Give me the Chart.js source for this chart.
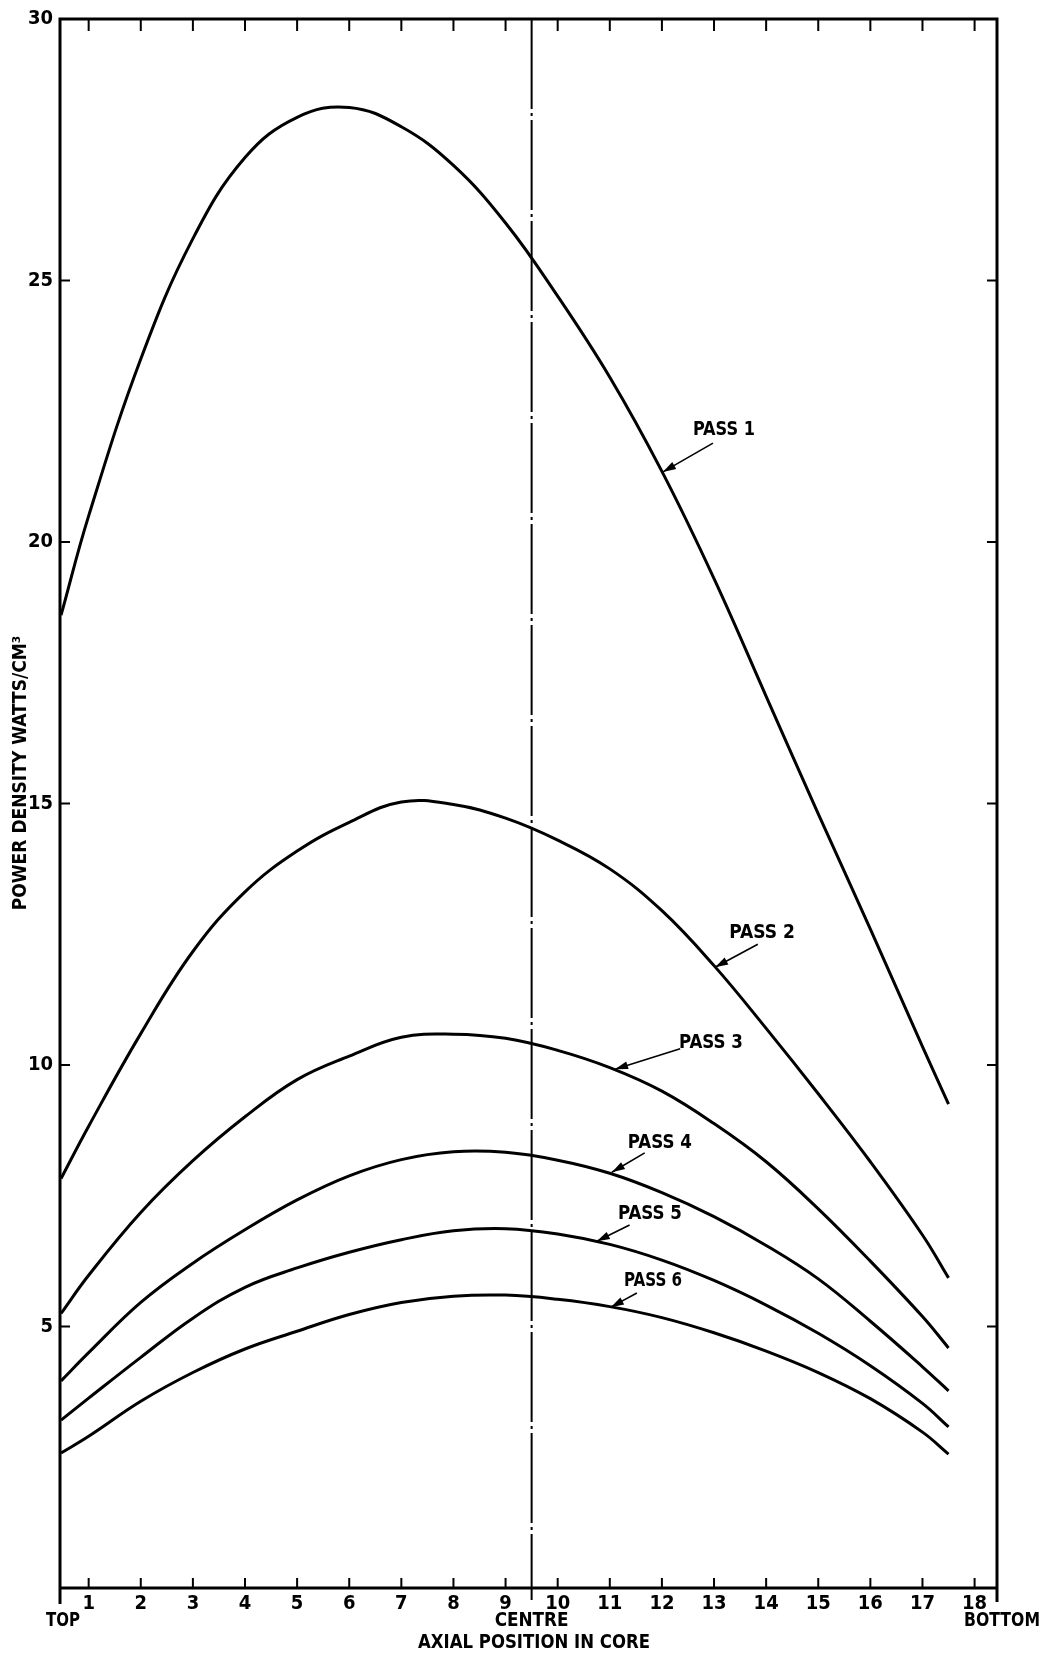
<!DOCTYPE html>
<html>
<head>
<meta charset="utf-8">
<title>Power density - axial position in core</title>
<script src="https://cdn.jsdelivr.net/npm/chart.js@4.4.1/dist/chart.umd.min.js"></script>
<style>
  html, body { margin: 0; padding: 0; background: #fff; }
  #wrap { width: 1046px; height: 1659px; position: relative; }
</style>
</head>
<body>
<div id="wrap"><canvas id="grafica"></canvas></div>
<script>
// axial positions where the curves were read (TOP edge .. last channel)
let positions = [0.47, 1, 2, 3, 4, 5, 6, 7, 8, 9, 10, 11, 12, 13, 14, 15, 16, 17, 17.5];
let pass1 = [18.6, 20.5, 23.5, 25.8, 27.35, 28.12, 28.31, 27.94, 27.2, 26.1, 24.7, 23.15, 21.35, 19.3, 17.05, 14.8, 12.6, 10.35, 9.25];
let pass2 = [7.83, 8.83, 10.6, 12.17, 13.31, 14.09, 14.64, 15.03, 14.98, 14.72, 14.3, 13.75, 12.95, 11.9, 10.7, 9.45, 8.15, 6.75, 5.93];
let pass3 = [5.25, 5.98, 7.18, 8.17, 9.01, 9.72, 10.17, 10.53, 10.59, 10.51, 10.28, 9.95, 9.5, 8.88, 8.15, 7.25, 6.25, 5.19, 4.59];
let pass4 = [3.96, 4.5, 5.46, 6.21, 6.85, 7.42, 7.88, 8.19, 8.34, 8.33, 8.18, 7.93, 7.56, 7.1, 6.55, 5.91, 5.1, 4.23, 3.77];
let pass5 = [3.21, 3.63, 4.41, 5.16, 5.75, 6.12, 6.42, 6.66, 6.83, 6.87, 6.77, 6.57, 6.27, 5.88, 5.41, 4.87, 4.25, 3.53, 3.08];
let pass6 = [2.58, 2.9, 3.57, 4.12, 4.57, 4.91, 5.23, 5.46, 5.58, 5.6, 5.52, 5.38, 5.17, 4.88, 4.53, 4.12, 3.62, 2.98, 2.56];
let seriesNames = ['PASS 1', 'PASS 2', 'PASS 3', 'PASS 4', 'PASS 5', 'PASS 6'];
let xTicks = [1, 2, 3, 4, 5, 6, 7, 8, 9, 10, 11, 12, 13, 14, 15, 16, 17, 18];
let yTicks = [0, 5, 10, 15, 20, 25, 30];
let centrePos = 9.5;

const FONT = '"DejaVu Sans Condensed", "Liberation Sans Narrow", "DejaVu Sans", sans-serif';

// where each "PASS n" label sits and where its arrow points (data units)
const callouts = [
  { text: seriesNames[0], tx: 13.19, ty: 22.14, w: 62, from: [12.98, 21.89], to: [12.02, 21.34] },
  { text: seriesNames[1], tx: 13.92, ty: 12.52, w: 66, from: [13.84, 12.31], to: [13.02, 11.87] },
  { text: seriesNames[2], tx: 12.94, ty: 10.42, w: 64, from: [12.35, 10.31], to: [11.1, 9.92] },
  { text: seriesNames[3], tx: 11.96, ty: 8.51, w: 64, from: [11.67, 8.32], to: [11.04, 7.95] },
  { text: seriesNames[4], tx: 11.77, ty: 7.15, w: 64, from: [11.38, 6.94], to: [10.75, 6.63] },
  { text: seriesNames[5], tx: 11.83, ty: 5.87, w: 58, from: [11.52, 5.64], to: [11.02, 5.37] }
];

function toPoints(vals) {
  return vals.map((v, i) => ({ x: positions[i], y: v }));
}

const dibujo = {
  id: 'dibujo',
  afterDatasetsDraw(chart) {
    const ctx = chart.ctx;
    const a = chart.chartArea;
    const xs = chart.scales.x;
    const ys = chart.scales.y;
    ctx.save();
    ctx.strokeStyle = '#000';
    ctx.fillStyle = '#000';

    // centre line (chain line)
    const cx = xs.getPixelForValue(centrePos);
    ctx.lineWidth = 2;
    ctx.setLineDash([90, 4, 3, 4]);
    ctx.beginPath();
    ctx.moveTo(cx, a.top);
    ctx.lineTo(cx, a.bottom + 12);
    ctx.stroke();
    ctx.setLineDash([]);

    // frame
    ctx.lineWidth = 3;
    ctx.beginPath();
    ctx.moveTo(a.left, a.bottom + 16);
    ctx.lineTo(a.left, a.top);
    ctx.lineTo(a.right, a.top);
    ctx.lineTo(a.right, a.bottom + 14);
    ctx.moveTo(a.left, a.bottom);
    ctx.lineTo(a.right, a.bottom);
    ctx.stroke();

    // inward tick marks
    ctx.lineWidth = 2;
    ctx.beginPath();
    xTicks.forEach(v => {
      const px = xs.getPixelForValue(v);
      ctx.moveTo(px, a.bottom); ctx.lineTo(px, a.bottom - 10);
      ctx.moveTo(px, a.top); ctx.lineTo(px, a.top + 12);
    });
    yTicks.forEach(v => {
      if (v === 0 || v === 30) return;
      const py = ys.getPixelForValue(v);
      ctx.moveTo(a.left, py); ctx.lineTo(a.left + 10, py);
      ctx.moveTo(a.right, py); ctx.lineTo(a.right - 10, py);
    });
    ctx.stroke();

    // text under the axis
    ctx.font = 'bold 19px ' + FONT;
    ctx.textAlign = 'center';
    ctx.textBaseline = 'middle';
    ctx.fillText('TOP', a.left + 3, 1621, 34);
    ctx.fillText('CENTRE', cx, 1621, 74);
    ctx.fillText('BOTTOM', a.right + 5, 1621, 76);
    ctx.fillText('AXIAL POSITION IN CORE', 534, 1643, 232);

    // y title
    ctx.save();
    ctx.translate(21, 773);
    ctx.rotate(-Math.PI / 2);
    ctx.fillText('POWER DENSITY WATTS/CM\u00B3', 0, 0, 298);
    ctx.restore();

    // PASS labels with arrows
    callouts.forEach(c => {
      ctx.font = 'bold 19px ' + FONT;
      ctx.fillText(c.text, xs.getPixelForValue(c.tx), ys.getPixelForValue(c.ty), c.w);
      const x1 = xs.getPixelForValue(c.from[0]), y1 = ys.getPixelForValue(c.from[1]);
      const x2 = xs.getPixelForValue(c.to[0]), y2 = ys.getPixelForValue(c.to[1]);
      ctx.lineWidth = 1.6;
      ctx.beginPath();
      ctx.moveTo(x1, y1);
      ctx.lineTo(x2, y2);
      ctx.stroke();
      const ang = Math.atan2(y2 - y1, x2 - x1);
      ctx.beginPath();
      ctx.moveTo(x2, y2);
      ctx.lineTo(x2 - 13 * Math.cos(ang) + 4 * Math.sin(ang), y2 - 13 * Math.sin(ang) - 4 * Math.cos(ang));
      ctx.lineTo(x2 - 13 * Math.cos(ang) - 4 * Math.sin(ang), y2 - 13 * Math.sin(ang) + 4 * Math.cos(ang));
      ctx.closePath();
      ctx.fill();
    });
    ctx.restore();
  }
};

const graf = document.getElementById('grafica').getContext('2d');
const grafica = new Chart(graf, {
  type: 'line',
  data: {
    datasets: [pass1, pass2, pass3, pass4, pass5, pass6].map((vals, i) => ({
      label: seriesNames[i],
      data: toPoints(vals),
      borderColor: '#000',
      borderWidth: 3,
      pointRadius: 0,
      fill: false,
      tension: 0.4
    }))
  },
  options: {
    responsive: true,
    maintainAspectRatio: false,
    animation: false,
    layout: { padding: { left: 0, top: 18, right: 49, bottom: 0 } },
    plugins: { legend: { display: false }, tooltip: { enabled: false } },
    scales: {
      x: {
        type: 'linear',
        min: 0.45,
        max: 18.43,
        grid: { display: false, drawTicks: false },
        border: { display: false },
        afterBuildTicks: s => { s.ticks = xTicks.map(v => ({ value: v })); },
        afterFit: s => { s.height = 71; },
        ticks: {
          color: '#000',
          padding: 4,
          maxRotation: 0,
          autoSkip: false,
          font: { family: FONT, size: 20, weight: 'bold' }
        }
      },
      y: {
        min: 0,
        max: 30,
        grid: { display: false, drawTicks: false },
        border: { display: false },
        afterBuildTicks: s => { s.ticks = yTicks.map(v => ({ value: v })); },
        afterFit: s => { s.width = 60; },
        ticks: {
          color: '#000',
          padding: 7,
          font: { family: FONT, size: 20, weight: 'bold' },
          callback: v => v === 0 ? '' : v
        }
      }
    }
  },
  plugins: [dibujo]
});
</script>
</body>
</html>
